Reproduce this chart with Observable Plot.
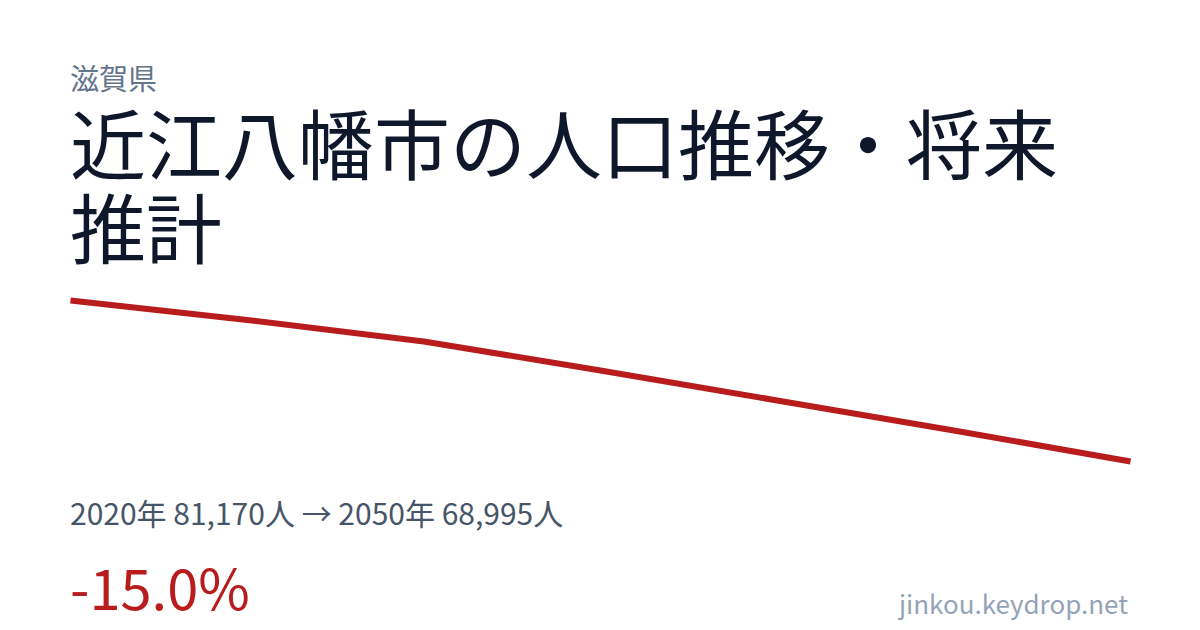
<!DOCTYPE html>
<html>
<head>
<meta charset="utf-8">
<script src="https://cdn.jsdelivr.net/npm/d3@7"></script>
<script src="https://cdn.jsdelivr.net/npm/@observablehq/plot@0.6"></script>
<style>
  html, body { margin: 0; padding: 0; background: #ffffff; }
  body { width: 1200px; height: 630px; position: relative; overflow: hidden; font-family: "Noto Sans CJK JP", "Noto Sans", sans-serif; }
  .pref { position: absolute; left: 70px; top: 63px; font-size: 29px; line-height: 1; color: #64748b; }
  .title { position: absolute; left: 70px; top: 100px; width: 1060px; font-size: 76px; line-height: 1.1; color: #0f172a; font-weight: 400; }
  #chart { position: absolute; left: 0; top: 280px; }
  .stats { position: absolute; left: 70px; top: 494px; font-size: 30px; line-height: 1.2; color: #475569; }
  .pct { position: absolute; left: 70px; top: 552px; font-size: 56px; line-height: 1.2; color: #b91c1c; }
  .site { position: absolute; right: 72px; top: 587px; font-size: 26px; line-height: 1.2; color: #94a3b8; }
</style>
</head>
<body>
<div class="pref" id="pref"></div>
<div class="title" id="title"></div>
<div id="chart"></div>
<div class="stats" id="stats"></div>
<div class="pct" id="pct"></div>
<div class="site" id="site"></div>
<script>
const prefecture = "滋賀県";
const cityTitle = "近江八幡市の人口推移・将来推計";
const years = [2020, 2025, 2030, 2035, 2040, 2045, 2050];
const population = [81170, 79700, 78070, 75880, 73610, 71340, 68995];
const siteName = "jinkou.keydrop.net";

const data = years.map((year, i) => ({year, value: population[i]}));
const first = data[0], last = data[data.length - 1];
const change = (last.value - first.value) / first.value * 100;
const fmt = d3.format(",");

document.getElementById("pref").textContent = prefecture;
document.getElementById("title").textContent = cityTitle;
document.getElementById("stats").textContent =
  `${first.year}年 ${fmt(first.value)}人 → ${last.year}年 ${fmt(last.value)}人`;
document.getElementById("pct").textContent = `${change.toFixed(1)}%`;
document.getElementById("site").textContent = siteName;

const chart = Plot.plot({
  width: 1200,
  height: 200,
  marginLeft: 70,
  marginRight: 70,
  marginTop: 20,
  marginBottom: 19,
  x: {domain: d3.extent(years), axis: null},
  y: {domain: d3.extent(population), axis: null},
  marks: [
    Plot.line(data, {x: "year", y: "value", stroke: "#b91c1c", strokeWidth: 6, strokeLinecap: "butt", strokeLinejoin: "round"})
  ]
});
document.getElementById("chart").appendChild(chart);
</script>
</body>
</html>
